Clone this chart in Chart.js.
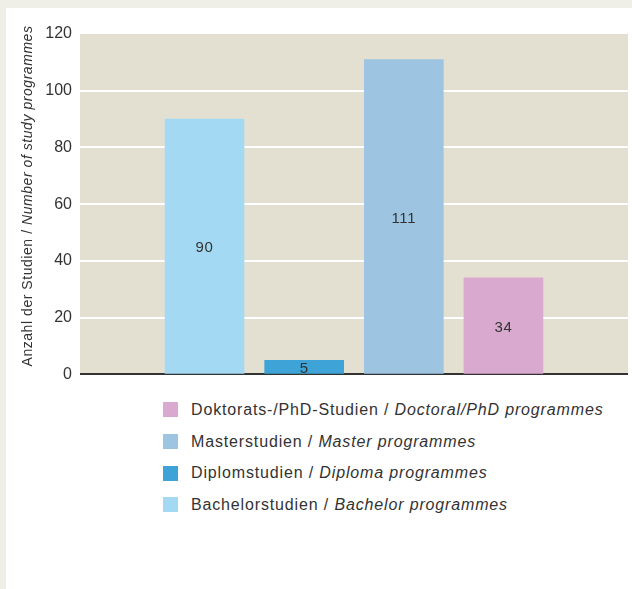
<!DOCTYPE html>
<html>
<head>
<meta charset="utf-8">
<script src="https://cdn.jsdelivr.net/npm/chart.js@4"></script>
<style>
	html, body { margin: 0; padding: 0; }
	body { width: 632px; height: 589px; background: #efefe8; position: relative; overflow: hidden; font-family: "Liberation Sans", Arial, sans-serif; }
	#panel { position: absolute; left: 6px; top: 8px; width: 626px; height: 581px; background: #fff; }
	#wrap { position: absolute; left: 0; top: 0; width: 626px; height: 384px; }
	#legend { position: absolute; left: 157px; top: 386px; margin: 0; padding: 0; list-style: none; color: #333; font-size: 16px; letter-spacing: 0.85px; }
	#legend li { height: 31.7px; display: flex; align-items: center; }
	#legend .box { width: 15px; height: 15px; margin-right: 13px; }
</style>
</head>
<body>
<div id="panel">
	<div id="wrap"><canvas id="chart-bar"></canvas></div>
	<ul id="legend"></ul>
</div>
<script>
const categories = ["Bachelorstudien", "Diplomstudien", "Masterstudien", "Doktorats-/PhD-Studien"];
const categoriesEn = ["Bachelor programmes", "Diploma programmes", "Master programmes", "Doctoral/PhD programmes"];
const values = [90, 5, 111, 34];
const colors = ["#a4d9f3", "#3ea3d7", "#9dc4e1", "#d9a9cf"];
const yTicks = [0, 20, 40, 60, 80, 100, 120];

const ctx = document.getElementById("chart-bar");
const FONT = '"Liberation Sans", Arial, sans-serif';

// beige plot background
const plotBg = {
	id: "plotBg",
	beforeDraw(chart) {
		const { ctx, chartArea: a } = chart;
		ctx.save();
		ctx.fillStyle = "#e3e0d2";
		ctx.fillRect(a.left, a.top, a.right - a.left, a.bottom - a.top);
		ctx.restore();
	},
};

// number in the middle of each bar
const barValues = {
	id: "barValues",
	afterDatasetsDraw(chart) {
		const { ctx } = chart;
		const meta = chart.getDatasetMeta(0);
		ctx.save();
		ctx.font = "15px " + FONT;
		ctx.letterSpacing = "0.6px";
		ctx.fillStyle = "#333";
		ctx.textAlign = "center";
		ctx.textBaseline = "middle";
		meta.data.forEach((bar, i) => {
			const { x, y, base } = bar.getProps(["x", "y", "base"], true);
			ctx.fillText(values[i], x, (y + base) / 2 + 2);
		});
		ctx.restore();
	},
};

// rotated y title, second half italic
const yTitle = {
	id: "yTitle",
	afterDraw(chart) {
		const { ctx } = chart;
		const p1 = "Anzahl der Studien / ";
		const p2 = "Number of study programmes";
		const f1 = "14px " + FONT;
		const f2 = "italic 14px " + FONT;
		ctx.save();
		ctx.letterSpacing = "0.55px";
		ctx.font = f1;
		const w1 = ctx.measureText(p1).width;
		ctx.font = f2;
		const w2 = ctx.measureText(p2).width;
		ctx.translate(22, 188);
		ctx.rotate(-Math.PI / 2);
		ctx.fillStyle = "#333";
		ctx.textBaseline = "middle";
		ctx.textAlign = "left";
		const start = -(w1 + w2) / 2;
		ctx.font = f1;
		ctx.fillText(p1, start, 0);
		ctx.font = f2;
		ctx.fillText(p2, start + w1, 0);
		ctx.restore();
	},
};

const data = {
	datasets: [
		{
			data: values.map((v, i) => ({ x: i, y: v })),
			backgroundColor: colors,
			barThickness: 79,
		},
	],
};

const options = {
	responsive: true,
	maintainAspectRatio: false,
	animation: false,
	layout: { padding: { top: 26, right: 4, bottom: 14, left: 0 } },
	plugins: { legend: { display: false }, tooltip: { enabled: false } },
	scales: {
		x: {
			type: "linear",
			min: -1.25,
			max: 4.25,
			offset: false,
			display: false,
		},
		y: {
			min: yTicks[0],
			max: yTicks[yTicks.length - 1],
			afterBuildTicks: (s) => { s.ticks = yTicks.map((v) => ({ value: v })); },
			afterFit: (s) => { s.width = 74; },
			border: { display: false },
			grid: {
				drawTicks: false,
				lineWidth: 2,
				color: (c) => c.tick.value === 0 ? "#333" : c.tick.value === 120 ? "rgba(0,0,0,0)" : "#fff",
			},
			ticks: {
				padding: 8,
				color: "#333",
				font: { size: 16, family: FONT },
			},
		},
	},
};

new Chart(ctx, {
	type: "bar",
	data: data,
	options: options,
	plugins: [plotBg, barValues, yTitle],
});

// legend, reversed order like the original
const legend = document.getElementById("legend");
for (let i = categories.length - 1; i >= 0; i--) {
	const li = document.createElement("li");
	const box = document.createElement("span");
	box.className = "box";
	box.style.background = colors[i];
	const txt = document.createElement("span");
	txt.textContent = categories[i] + " / ";
	const en = document.createElement("i");
	en.textContent = categoriesEn[i];
	txt.appendChild(en);
	li.appendChild(box);
	li.appendChild(txt);
	legend.appendChild(li);
}
</script>
</body>
</html>
